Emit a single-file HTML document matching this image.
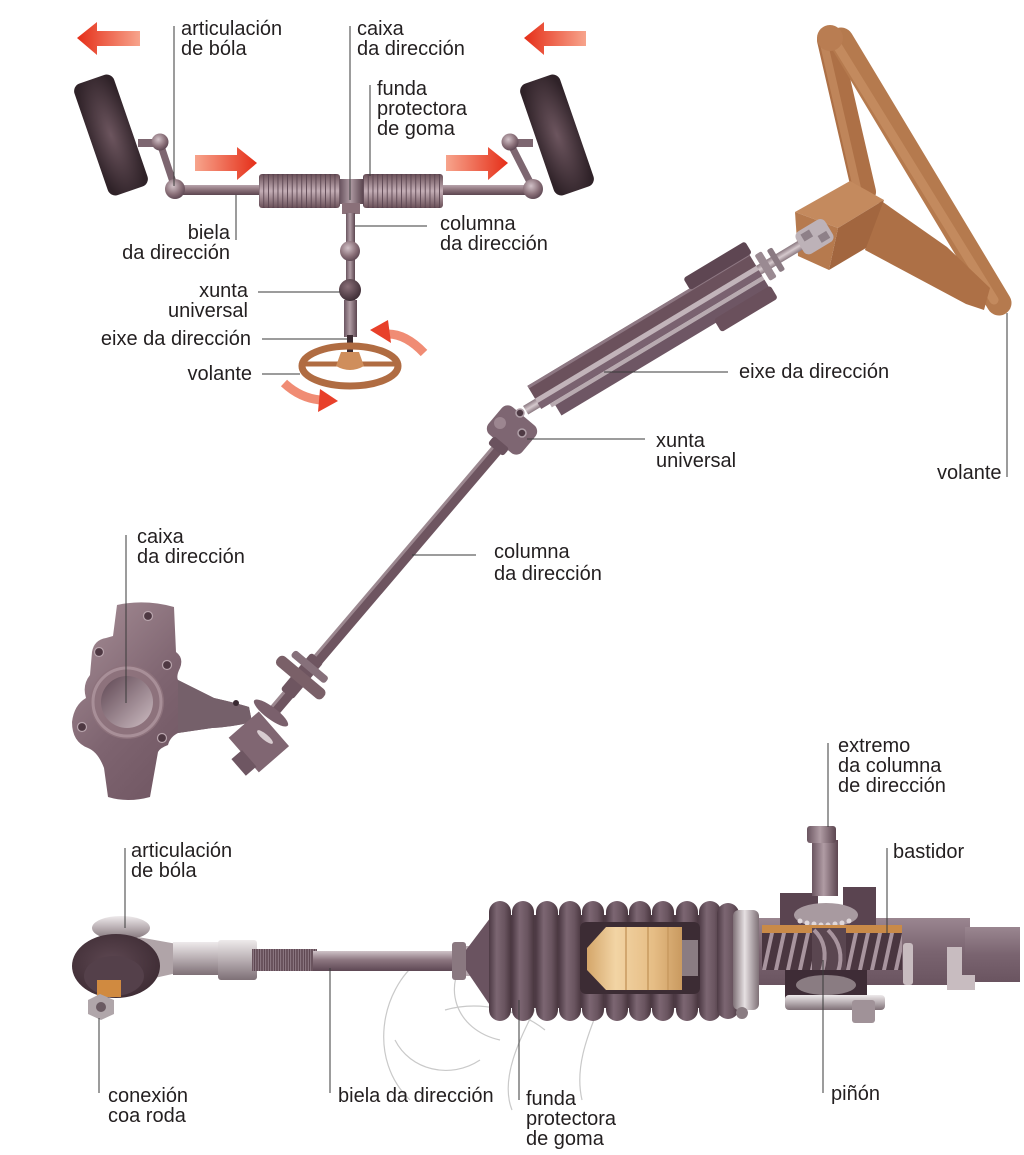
<!DOCTYPE html>
<html><head><meta charset="utf-8">
<style>
html,body{margin:0;padding:0;background:#fff;}
svg{display:block;}
text{font-family:"Liberation Sans",Arial,sans-serif;font-size:20px;fill:#231f20;}
.r{text-anchor:end;}
.ld{stroke:#3a3a3a;stroke-width:1;fill:none;}
</style></head><body>
<svg width="1024" height="1155" viewBox="0 0 1024 1155" xmlns="http://www.w3.org/2000/svg">
<defs>
 <linearGradient id="redL" x1="0" x2="1" y1="0" y2="0"><stop offset="0" stop-color="#e52e18"/><stop offset="1" stop-color="#f7a48c"/></linearGradient>
 <linearGradient id="redR" x1="0" x2="1" y1="0" y2="0"><stop offset="0" stop-color="#f7a48c"/><stop offset="1" stop-color="#e52e18"/></linearGradient>
 <radialGradient id="tire" cx="0.5" cy="0.5" r="0.6"><stop offset="0" stop-color="#6c555e"/><stop offset="1" stop-color="#2f2228"/></radialGradient>
 <linearGradient id="metV" x1="0" x2="0" y1="0" y2="1"><stop offset="0" stop-color="#b8a4ac"/><stop offset="0.5" stop-color="#8a7079"/><stop offset="1" stop-color="#5c4650"/></linearGradient>
 <linearGradient id="metH" x1="0" x2="1" y1="0" y2="0"><stop offset="0" stop-color="#6a5560"/><stop offset="0.45" stop-color="#b09ca4"/><stop offset="1" stop-color="#5c4650"/></linearGradient>
 <radialGradient id="ball" cx="0.4" cy="0.35" r="0.7"><stop offset="0" stop-color="#d2c2c8"/><stop offset="0.6" stop-color="#8a7079"/><stop offset="1" stop-color="#5a4450"/></radialGradient>
 <radialGradient id="ballD" cx="0.4" cy="0.35" r="0.7"><stop offset="0" stop-color="#8a7079"/><stop offset="1" stop-color="#3a2a32"/></radialGradient>
 <linearGradient id="ridge" x1="0" x2="0" y1="0" y2="1"><stop offset="0" stop-color="#6a5058"/><stop offset="0.5" stop-color="#c4aeb6"/><stop offset="1" stop-color="#6a5058"/></linearGradient>
 <pattern id="bel" x="259" y="174" width="4.75" height="34" patternUnits="userSpaceOnUse"><rect x="0" y="0" width="4.75" height="34" fill="#5a4450"/><rect x="0.4" y="0" width="3.9" height="34" rx="1.9" fill="url(#ridge)"/></pattern>
 <linearGradient id="rodG" x1="0" x2="0" y1="0" y2="1"><stop offset="0" stop-color="#cfc3c8"/><stop offset="0.45" stop-color="#8c7680"/><stop offset="1" stop-color="#5e4854"/></linearGradient>
 <linearGradient id="silV" x1="0" x2="0" y1="0" y2="1"><stop offset="0" stop-color="#eeeaeb"/><stop offset="0.5" stop-color="#b8aeb2"/><stop offset="1" stop-color="#7e7076"/></linearGradient>
 <linearGradient id="silH" x1="0" x2="1" y1="0" y2="0"><stop offset="0" stop-color="#7e7076"/><stop offset="0.45" stop-color="#e6e0e2"/><stop offset="1" stop-color="#7e7076"/></linearGradient>
 <linearGradient id="bellH" x1="0" x2="1" y1="0" y2="0"><stop offset="0" stop-color="#4d3a44"/><stop offset="0.35" stop-color="#7c6672"/><stop offset="0.7" stop-color="#6a5560"/><stop offset="1" stop-color="#4a3740"/></linearGradient>
 <linearGradient id="tanG" x1="0" x2="1" y1="0" y2="0"><stop offset="0" stop-color="#d4a66a"/><stop offset="0.3" stop-color="#f2d4a4"/><stop offset="0.7" stop-color="#e6bd85"/><stop offset="1" stop-color="#c99a60"/></linearGradient>
 <linearGradient id="houseV" x1="0" x2="0" y1="0" y2="1"><stop offset="0" stop-color="#9a8690"/><stop offset="0.5" stop-color="#7a6470"/><stop offset="1" stop-color="#6a5460"/></linearGradient>
 <linearGradient id="knG" x1="0" x2="1" y1="0" y2="1"><stop offset="0" stop-color="#a89098"/><stop offset="0.45" stop-color="#7e6470"/><stop offset="1" stop-color="#664c58"/></linearGradient>
 <linearGradient id="holeG" x1="0" x2="1" y1="0" y2="1"><stop offset="0" stop-color="#5e4652"/><stop offset="1" stop-color="#cdbcc2"/></linearGradient>
 <radialGradient id="sockG" cx="0.45" cy="0.45" r="0.6"><stop offset="0" stop-color="#5e4852"/><stop offset="1" stop-color="#3e2c34"/></radialGradient>
 <linearGradient id="shaftG" x1="0" x2="0" y1="0" y2="1"><stop offset="0" stop-color="#8a7880"/><stop offset="0.5" stop-color="#d6cace"/><stop offset="1" stop-color="#8a7880"/></linearGradient>
 <pattern id="teeth" x="762" y="933" width="12" height="37" patternUnits="userSpaceOnUse"><rect width="12" height="37" fill="#4a3640"/><polygon points="0,37 8,0 12,0 4,37" fill="#a8949e"/></pattern>
 <pattern id="thread" x="252" y="949" width="2.5" height="22" patternUnits="userSpaceOnUse"><rect width="2.5" height="22" fill="#5e4852"/><rect x="0.8" width="0.9" height="22" fill="#9a8690"/></pattern>
</defs>

<!-- ============ TOP-LEFT DIAGRAM ============ -->
<!-- red arrows -->
<path d="M77,38 L97,22 L97,31 L140,31 L140,46 L97,46 L97,55 Z" fill="url(#redL)"/>
<path d="M524,38 L544,22 L544,31 L586,31 L586,46 L544,46 L544,55 Z" fill="url(#redL)"/>
<path d="M257,163 L237,147 L237,155 L195,155 L195,171 L237,171 L237,180 Z" fill="url(#redR)"/>
<path d="M508,163 L488,147 L488,155 L446,155 L446,171 L488,171 L488,180 Z" fill="url(#redR)"/>

<!-- wheels -->
<rect x="-21" y="-59" width="42" height="118" rx="8" fill="url(#tire)" transform="translate(111,135) rotate(-19)"/>
<rect x="-21" y="-59" width="42" height="118" rx="8" fill="url(#tire)" transform="translate(557,135) rotate(-19)"/>

<!-- steering arms -->
<line x1="138" y1="143" x2="160" y2="143" stroke="#7d6670" stroke-width="8"/>
<line x1="160" y1="143" x2="175" y2="188" stroke="#7d6670" stroke-width="7"/>
<circle cx="160" cy="142" r="8.5" fill="url(#ball)"/>
<line x1="510" y1="143" x2="533" y2="143" stroke="#7d6670" stroke-width="8"/>
<line x1="510" y1="143" x2="533" y2="188" stroke="#7d6670" stroke-width="7"/>
<circle cx="510" cy="142" r="8.5" fill="url(#ball)"/>

<!-- rack -->
<rect x="174" y="185" width="360" height="10" fill="url(#metV)"/>
<circle cx="175" cy="189" r="10" fill="url(#ball)"/>
<circle cx="533" cy="189" r="10" fill="url(#ball)"/>

<!-- bellows -->
<rect x="259" y="174" width="81" height="34" rx="3" fill="url(#bel)"/>
<rect x="363" y="174" width="80" height="34" rx="3" fill="url(#bel)"/>
<!-- central box -->
<rect x="340" y="179" width="23" height="25" fill="url(#metH)"/>
<rect x="342" y="203" width="18" height="11" fill="#8a7079"/>

<!-- column -->
<rect x="346" y="213" width="9" height="90" fill="url(#metH)"/>
<rect x="344" y="300" width="13" height="37" fill="url(#metH)"/>
<rect x="347" y="335" width="6" height="18" fill="#3a2a30"/>
<circle cx="350" cy="251" r="10" fill="url(#ball)"/>
<circle cx="350" cy="290" r="11" fill="url(#ballD)"/>

<!-- small steering wheel -->
<ellipse cx="350" cy="366" rx="48" ry="20" fill="none" stroke="#b06c42" stroke-width="7"/>
<line x1="304" y1="364" x2="397" y2="364" stroke="#b06c42" stroke-width="5"/>
<path d="M341,352 L359,352 L364,366 Q350,374 336,366 Z" fill="#cf8e5c"/>

<!-- curved red arrows -->
<path d="M424,353 Q406,334 388,334" fill="none" stroke="#f08c74" stroke-width="9"/>
<path d="M370,330 L388,320 L391,343 Z" fill="#e8402a"/>
<path d="M284,383 Q300,398 320,400" fill="none" stroke="#f08c74" stroke-width="9"/>
<path d="M338,401 L320,389 L318,412 Z" fill="#e8402a"/>

<!-- top labels -->
<line class="ld" x1="174" y1="26" x2="174" y2="186"/>
<text x="181" y="35">articulación</text>
<text x="181" y="55">de bóla</text>
<line class="ld" x1="350" y1="26" x2="350" y2="200"/>
<text x="357" y="35">caixa</text>
<text x="357" y="55">da dirección</text>
<line class="ld" x1="370" y1="85" x2="370" y2="176"/>
<text x="377" y="95">funda</text>
<text x="377" y="115">protectora</text>
<text x="377" y="135">de goma</text>
<line class="ld" x1="236" y1="195" x2="236" y2="240"/>
<text class="r" x="230" y="239">biela</text>
<text class="r" x="230" y="259">da dirección</text>
<line class="ld" x1="355" y1="226" x2="427" y2="226"/>
<text x="440" y="230">columna</text>
<text x="440" y="250">da dirección</text>
<line class="ld" x1="258" y1="292" x2="340" y2="292"/>
<text class="r" x="248" y="297">xunta</text>
<text class="r" x="248" y="317">universal</text>
<line class="ld" x1="262" y1="339" x2="348" y2="339"/>
<text class="r" x="251" y="345">eixe da dirección</text>
<line class="ld" x1="262" y1="374" x2="300" y2="374"/>
<text class="r" x="252" y="380">volante</text>

<!-- ============ BIG STEERING WHEEL ============ -->
<g stroke-linecap="round" fill="none">
 <line x1="829" y1="40" x2="864" y2="192" stroke="#ad7046" stroke-width="24"/>
 <line x1="841" y1="40" x2="999" y2="303" stroke="#b57a4e" stroke-width="25"/>
 <line x1="835" y1="42" x2="994" y2="300" stroke="#c38a5e" stroke-width="9"/>
 <line x1="824" y1="44" x2="857" y2="188" stroke="#bf855a" stroke-width="8"/>
</g>
<circle cx="830" cy="38" r="13" fill="#b97d52"/>
<polygon points="880,200 947,247 990,288 984,310 966,304 865,250" fill="#ad7046"/>
<!-- hub block -->
<polygon points="795,212 850,181 884,200 838,228" fill="#c48a5e"/>
<polygon points="838,228 884,200 866,248 829,270" fill="#a2663f"/>
<polygon points="795,212 838,228 829,270 798,256" fill="#b67a4e"/>

<!-- ============ COLUMN ============ -->
<!-- lower shaft -->
<line x1="497" y1="450" x2="272" y2="714" stroke="#6e5560" stroke-width="11"/>
<line x1="494" y1="446" x2="269" y2="710" stroke="#9c8890" stroke-width="3"/>

<g transform="translate(533,407) rotate(-31)">
 <rect x="-8" y="-6" width="345" height="10" fill="url(#shaftG)"/>
 <rect x="6" y="-21" width="258" height="15" fill="#6b515c"/>
 <rect x="6" y="-21" width="258" height="3" fill="#8e7883"/>
 <rect x="6" y="-6" width="258" height="5" fill="#c2b4ba"/>
 <rect x="6" y="-1" width="258" height="7" fill="#7a6270"/>
 <rect x="16" y="6" width="248" height="4" fill="#b8aab0"/>
 <rect x="20" y="10" width="244" height="12" fill="#6e5664"/>
 <rect x="195" y="-33" width="72" height="14" rx="3" fill="#5e4652"/>
 <rect x="200" y="18" width="66" height="15" rx="3" fill="#6a505c"/>
 <rect x="268" y="-16" width="8" height="30" rx="2" fill="#9a8a92"/>
 <rect x="281" y="-14" width="6" height="26" rx="2" fill="#8a7a82"/>
 <rect x="312" y="-14" width="34" height="26" rx="6" fill="#bdb2b8"/>
 <rect x="318" y="-10" width="10" height="8" fill="#8e8088"/>
 <rect x="332" y="0" width="10" height="8" fill="#8e8088"/>
</g>

<!-- lower u-joint -->
<g transform="translate(512,430) rotate(-50)">
 <rect x="-18" y="-22" width="36" height="44" rx="8" fill="#7e6672"/>
 <rect x="-26" y="-10" width="10" height="20" rx="3" fill="#6a525e"/>
</g>
<circle cx="500" cy="423" r="6" fill="#9c8690"/>
<circle cx="520" cy="413" r="4" fill="#4e3a44" stroke="#b0a0a8" stroke-width="1.5"/>
<circle cx="522" cy="433" r="4" fill="#4e3a44" stroke="#b0a0a8" stroke-width="1.5"/>

<!-- clamp on lower shaft -->
<g transform="translate(302,676) rotate(-50)">
 <rect x="-24" y="-8" width="48" height="16" rx="3" fill="#6e5560"/>
 <rect x="-8" y="-30" width="12" height="60" rx="5" fill="#7a6068"/>
 <rect x="8" y="-22" width="8" height="44" rx="3" fill="#86707a"/>
</g>

<!-- knuckle -->
<path d="M117,605 Q145,599 174,607 L176,652 Q184,658 180,668 Q176,676 178,680 L214,698 Q236,703 249,707 L252,722 Q232,727 212,728 L178,733 Q170,737 168,745 Q160,748 158,752 L150,797 Q128,803 108,797 L104,768 Q98,752 88,748 Q72,742 72,722 Q74,705 86,698 Q82,685 90,675 L92,652 Q94,640 106,638 L113,636 Z" fill="url(#knG)"/>
<path d="M178,680 L214,698 Q236,703 249,707 L252,722 Q232,727 212,728 L178,733 Z" fill="#75606a"/>
<circle cx="127" cy="702" r="37" fill="#8d727c"/>
<circle cx="127" cy="702" r="34" fill="none" stroke="#a88f98" stroke-width="3"/>
<circle cx="127" cy="702" r="26" fill="url(#holeG)"/>
<circle cx="148" cy="616" r="4.5" fill="#4e3842" stroke="#b8a4ac" stroke-width="1.2"/>
<circle cx="99" cy="652" r="4.5" fill="#4e3842" stroke="#b8a4ac" stroke-width="1.2"/>
<circle cx="167" cy="665" r="4.5" fill="#4e3842" stroke="#b8a4ac" stroke-width="1.2"/>
<circle cx="82" cy="727" r="4.5" fill="#4e3842" stroke="#b8a4ac" stroke-width="1.2"/>
<circle cx="162" cy="738" r="4.5" fill="#4e3842" stroke="#b8a4ac" stroke-width="1.2"/>
<circle cx="236" cy="703" r="3" fill="#3a2a32"/>

<!-- clamp block at knuckle -->
<g transform="translate(258,744) rotate(-41)">
 <rect x="-18" y="-24" width="40" height="46" fill="#806672"/>
 <rect x="-30" y="-6" width="14" height="22" fill="#6e5662"/>
</g>
<ellipse cx="265" cy="737" rx="10" ry="3" transform="rotate(40 265 737)" fill="#d8ccd0"/>
<ellipse cx="271" cy="713" rx="21" ry="6" transform="rotate(37 271 713)" fill="#7a606c"/>

<!-- middle labels -->
<line class="ld" x1="604" y1="372" x2="728" y2="372"/>
<text x="739" y="378">eixe da dirección</text>
<line class="ld" x1="527" y1="439" x2="645" y2="439"/>
<text x="656" y="447">xunta</text>
<text x="656" y="467">universal</text>
<line class="ld" x1="1007" y1="313" x2="1007" y2="477"/>
<text x="937" y="479">volante</text>
<line class="ld" x1="126" y1="535" x2="126" y2="703"/>
<text x="137" y="543">caixa</text>
<text x="137" y="563">da dirección</text>
<line class="ld" x1="412" y1="555" x2="476" y2="555"/>
<text x="494" y="558">columna</text>
<text x="494" y="580">da dirección</text>

<!-- ============ BOTTOM RACK ============ -->
<!-- watermark curves -->
<g fill="none" stroke="#c9c9c9" stroke-width="1.2">
 <path d="M420,960 C380,990 368,1060 410,1100"/>
 <path d="M470,952 C440,985 455,1030 500,1040"/>
 <path d="M445,1010 C480,1000 520,1010 545,1030"/>
 <path d="M540,1000 C518,1040 500,1080 512,1110"/>
 <path d="M602,1000 C585,1040 575,1070 582,1100"/>
 <path d="M395,1040 C410,1070 450,1080 480,1060"/>
</g>

<!-- tie rod end -->
<ellipse cx="121" cy="928" rx="29" ry="12" fill="url(#silV)"/>
<path d="M138,937 L177,944 L177,973 L150,979 Z" fill="#b0a4a8"/>
<ellipse cx="116" cy="966" rx="44" ry="32" fill="url(#sockG)"/>
<ellipse cx="114" cy="976" rx="30" ry="20" fill="#54404a"/>
<rect x="97" y="980" width="24" height="17" fill="#d08a40"/>
<polygon points="88,1000 100,994 114,1000 114,1014 101,1020 88,1014" fill="#b0a6aa"/>
<circle cx="101" cy="1007" r="5" fill="#6a5a62"/>
<rect x="173" y="942" width="47" height="33" fill="url(#silV)"/>
<rect x="218" y="940" width="39" height="40" rx="3" fill="url(#silV)"/>
<rect x="252" y="949" width="65" height="22" fill="url(#thread)"/>
<rect x="313" y="951" width="142" height="20" fill="url(#rodG)"/>
<rect x="452" y="942" width="14" height="38" rx="3" fill="#8a7880"/>
<rect x="466" y="946" width="8" height="30" fill="#b8aab0"/>

<!-- bellows -->
<path d="M466,950 L500,905 L500,1020 L466,970 Z" fill="#6a5360"/>
<rect x="490" y="915" width="260" height="93" fill="#4d3a44"/>
<g fill="url(#bellH)">
 <rect x="489" y="901" width="22" height="120" rx="11"/>
 <rect x="512" y="901" width="22" height="120" rx="11"/>
 <rect x="536" y="901" width="22" height="120" rx="11"/>
 <rect x="559" y="901" width="22" height="120" rx="11"/>
 <rect x="582" y="901" width="22" height="120" rx="11"/>
 <rect x="606" y="901" width="22" height="120" rx="11"/>
 <rect x="629" y="901" width="22" height="120" rx="11"/>
 <rect x="652" y="901" width="22" height="120" rx="11"/>
 <rect x="676" y="901" width="22" height="120" rx="11"/>
 <rect x="699" y="901" width="22" height="120" rx="11"/>
 <rect x="717" y="903" width="22" height="116" rx="11"/>
</g>
<rect x="580" y="922" width="120" height="72" rx="6" fill="#3c2c34"/>
<path d="M587,948 L606,927 L682,927 L682,990 L606,990 L587,970 Z" fill="url(#tanG)"/>
<line x1="626" y1="927" x2="626" y2="990" stroke="#c99a60" stroke-width="1.5"/>
<line x1="648" y1="927" x2="648" y2="990" stroke="#c99a60" stroke-width="1.5"/>
<line x1="668" y1="927" x2="668" y2="990" stroke="#c99a60" stroke-width="1.5"/>
<rect x="682" y="940" width="16" height="36" fill="#8a7c82"/>

<!-- housing -->
<rect x="755" y="918" width="215" height="67" fill="url(#houseV)"/>
<rect x="965" y="927" width="55" height="55" fill="url(#houseV)"/>
<rect x="733" y="910" width="26" height="100" rx="6" fill="url(#silH)"/>
<circle cx="742" cy="1013" r="6" fill="#8a7c82"/>
<rect x="903" y="943" width="10" height="42" rx="3" fill="#c8bcc0"/>
<path d="M947,947 L962,947 L962,975 L975,975 L975,990 L947,990 Z" fill="#c8bcc0"/>
<rect x="780" y="893" width="38" height="35" fill="#5a4450"/>
<rect x="843" y="887" width="33" height="41" fill="#5a4450"/>
<rect x="812" y="840" width="26" height="56" fill="url(#metH)"/>
<rect x="807" y="826" width="29" height="17" rx="3" fill="url(#metH)"/>
<ellipse cx="826" cy="915" rx="32" ry="12" fill="#a89aa0"/>
<g fill="#e0d8da">
 <circle cx="800" cy="921" r="2.5"/><circle cx="807" cy="923" r="2.5"/><circle cx="814" cy="924" r="2.5"/><circle cx="821" cy="925" r="2.5"/><circle cx="828" cy="925" r="2.5"/><circle cx="835" cy="924" r="2.5"/><circle cx="842" cy="923" r="2.5"/><circle cx="849" cy="921" r="2.5"/>
</g>
<rect x="762" y="925" width="140" height="8" fill="#c98a48"/>
<rect x="762" y="933" width="140" height="37" fill="url(#teeth)"/>
<rect x="812" y="928" width="34" height="45" fill="#5a4650"/>
<path d="M814,930 Q830,945 822,972 M828,930 Q846,948 838,972" stroke="#a8949e" stroke-width="4" fill="none"/>
<rect x="785" y="970" width="82" height="30" fill="#3e2c36"/>
<ellipse cx="826" cy="985" rx="30" ry="10" fill="#8a7c82"/>
<rect x="785" y="995" width="100" height="15" rx="4" fill="url(#silV)"/>
<rect x="852" y="1000" width="23" height="23" rx="3" fill="#a09298"/>

<!-- bottom labels -->
<line class="ld" x1="828" y1="743" x2="828" y2="827"/>
<text x="838" y="752">extremo</text>
<text x="838" y="772">da columna</text>
<text x="838" y="792">de dirección</text>
<line class="ld" x1="887" y1="848" x2="887" y2="935"/>
<text x="893" y="858">bastidor</text>
<line class="ld" x1="125" y1="848" x2="125" y2="928"/>
<text x="131" y="857">articulación</text>
<text x="131" y="877">de bóla</text>
<line class="ld" x1="99" y1="1018" x2="99" y2="1093"/>
<text x="108" y="1102">conexión</text>
<text x="108" y="1122">coa roda</text>
<line class="ld" x1="330" y1="968" x2="330" y2="1093"/>
<text x="338" y="1102">biela da dirección</text>
<line class="ld" x1="519" y1="1000" x2="519" y2="1100"/>
<text x="526" y="1105">funda</text>
<text x="526" y="1125">protectora</text>
<text x="526" y="1145">de goma</text>
<line class="ld" x1="823" y1="960" x2="823" y2="1093"/>
<text x="831" y="1100">piñón</text>
</svg>
</body></html>
